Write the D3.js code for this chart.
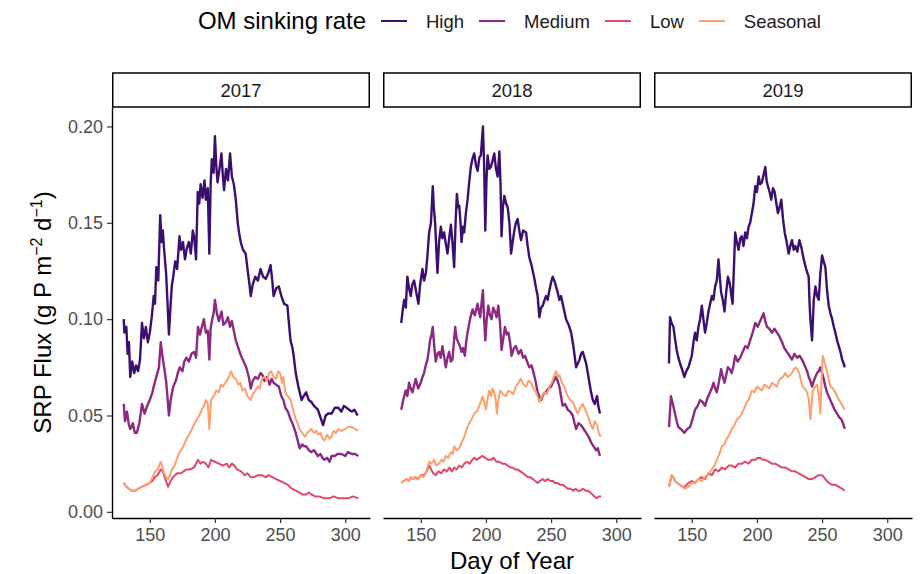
<!DOCTYPE html>
<html>
<head>
<meta charset="utf-8">
<script src="https://cdn.jsdelivr.net/npm/d3@7/dist/d3.min.js"></script>
<style>
  body { margin: 0; background: #fff; }
  text { font-family: "Liberation Sans", Arial, sans-serif; }
</style>
</head>
<body>
<div class="chart"></div>
<script>
const svgWidth = 922;
const svgHeight = 574;

// categories
const years = ["2017", "2018", "2019"];
const rates = ["High", "Medium", "Low", "Seasonal"];
const xTicks = [150, 200, 250, 300];
const yTicks = [0, 0.05, 0.10, 0.15, 0.20];

// [day of year, SRP flux]
const high2017 = [[130,0.100],[130.5,0.093],[132,0.096],[133,0.082],[134,0.088],[135,0.070],[136.5,0.078],[138,0.072],[139.5,0.076],[141,0.073],[142.5,0.079],[144,0.098],[145.5,0.090],[147,0.096],[148.5,0.088],[150,0.093],[151.5,0.101],[153,0.112],[154,0.108],[155,0.127],[156.5,0.120],[158,0.154],[159,0.140],[160,0.146],[161,0.136],[162.5,0.124],[163.5,0.110],[164.7,0.092],[166,0.108],[167,0.118],[168,0.122],[169.5,0.130],[171,0.126],[172.8,0.143],[174,0.136],[175.5,0.140],[177,0.131],[178.5,0.137],[180,0.140],[181.5,0.134],[183,0.146],[184,0.143],[185.5,0.131],[186.8,0.166],[188,0.160],[189,0.170],[190.5,0.163],[192,0.172],[193,0.162],[194.5,0.168],[195.7,0.134],[196.7,0.170],[197.6,0.183],[199,0.176],[200,0.195],[201,0.180],[202,0.171],[203.5,0.178],[205,0.186],[206,0.175],[207,0.167],[208.5,0.178],[210,0.172],[211.6,0.186],[213,0.174],[214.5,0.170],[216,0.162],[217.5,0.150],[218.5,0.145],[219.8,0.140],[221.5,0.136],[223.6,0.134],[225,0.126],[226.5,0.118],[227.5,0.112],[229,0.118],[231,0.122],[233,0.120],[235,0.126],[237,0.122],[239,0.121],[241,0.124],[242.7,0.128],[244,0.120],[245,0.112],[247,0.116],[249,0.117],[251,0.112],[253,0.108],[255.6,0.107],[256.5,0.100],[258,0.089],[259.5,0.085],[260.4,0.081],[262,0.072],[264,0.065],[266.5,0.058],[268,0.060],[270,0.062],[272,0.058],[274,0.057],[276,0.055],[279,0.053],[281,0.049],[283,0.045],[285,0.050],[287,0.051],[289.5,0.051],[292,0.054],[294.7,0.054],[297,0.052],[299,0.055],[301,0.054],[303,0.053],[305,0.052],[307,0.053],[309.5,0.050]];
const medium2017 = [[130,0.056],[131,0.047],[132.5,0.052],[134,0.045],[135,0.043],[137,0.046],[138.5,0.041],[140,0.041],[142,0.046],[144,0.056],[146,0.051],[148,0.055],[150,0.058],[152,0.062],[153,0.065],[155,0.070],[157,0.075],[158.4,0.088],[159.5,0.082],[161,0.075],[162.5,0.068],[164,0.056],[164.7,0.050],[166,0.058],[168,0.065],[170,0.068],[171.5,0.072],[173,0.075],[175,0.073],[176.5,0.078],[178,0.080],[180,0.078],[182,0.082],[184,0.083],[185.5,0.080],[187,0.096],[188.5,0.092],[190,0.096],[191.5,0.100],[193,0.093],[194.5,0.094],[195.7,0.079],[196.7,0.095],[197.6,0.099],[199,0.103],[200,0.110],[201.5,0.103],[203,0.099],[205,0.104],[206.5,0.097],[208,0.098],[210,0.101],[211.5,0.096],[213,0.099],[214.5,0.094],[216,0.089],[218,0.085],[220,0.081],[222,0.078],[224,0.075],[226,0.070],[227.5,0.064],[229,0.068],[231,0.070],[233,0.069],[235,0.072],[236.5,0.071],[238,0.068],[240,0.070],[242,0.066],[243.5,0.069],[245,0.067],[247,0.066],[249,0.065],[251,0.060],[252.5,0.058],[254,0.054],[256,0.052],[258,0.048],[260,0.045],[262,0.041],[263.5,0.037],[265,0.033],[267,0.035],[268.5,0.034],[270,0.034],[272,0.032],[274,0.031],[276,0.032],[278,0.030],[279,0.029],[281,0.030],[282.5,0.028],[284,0.027],[286,0.028],[288,0.026],[289.5,0.029],[292,0.029],[294,0.030],[297,0.030],[300,0.029],[302,0.031],[305,0.030],[307.5,0.030],[310,0.029]];
const low2017 = [[130,0.015],[132,0.013],[134,0.012],[136,0.011],[139,0.011],[141,0.012],[144,0.013],[147,0.014],[150,0.015],[152,0.016],[154,0.018],[156,0.019],[158.4,0.022],[160,0.021],[162,0.017],[164,0.013],[166,0.016],[168,0.018],[171,0.020],[174,0.020],[176,0.021],[178,0.022],[181,0.022],[184,0.023],[187,0.027],[189,0.025],[191,0.026],[193,0.025],[195,0.023],[197,0.027],[200,0.026],[203,0.025],[206,0.024],[209,0.025],[211,0.023],[213,0.025],[215,0.024],[217,0.022],[220,0.021],[223,0.019],[225,0.020],[227.5,0.018],[230,0.018],[233,0.019],[236,0.019],[239,0.018],[241,0.019],[244,0.018],[247,0.017],[250,0.016],[253,0.015],[256,0.014],[259,0.012],[262,0.011],[265,0.010],[267,0.009],[270,0.009],[272,0.010],[274,0.009],[277,0.008],[280,0.008],[284,0.007],[288,0.007],[291,0.008],[295,0.007],[299,0.007],[302,0.007],[306,0.008],[310,0.007]];
const seasonal2017 = [[130,0.015],[132,0.013],[134,0.012],[136,0.011],[139,0.011],[141,0.012],[144,0.013],[146,0.014],[148,0.014],[150,0.015],[152,0.018],[154,0.021],[156,0.022],[158.4,0.026],[159.5,0.024],[161,0.020],[162.5,0.018],[164,0.017],[165.5,0.019],[167,0.022],[169,0.024],[171,0.028],[173,0.031],[175,0.033],[177,0.036],[179,0.039],[181,0.041],[183,0.044],[186,0.048],[188,0.050],[190,0.053],[191.5,0.055],[193,0.058],[194.5,0.056],[195.7,0.043],[197,0.058],[199,0.060],[201,0.063],[203,0.062],[204.5,0.066],[206,0.065],[208,0.067],[210,0.069],[212.5,0.073],[214,0.070],[216,0.069],[218,0.066],[219.5,0.067],[221,0.063],[223,0.064],[225,0.060],[227.5,0.058],[229,0.061],[231,0.063],[233,0.065],[234.5,0.064],[236,0.069],[238,0.070],[240,0.068],[241.5,0.072],[243,0.073],[245,0.070],[247,0.069],[248.5,0.073],[250,0.072],[251.5,0.067],[252.5,0.070],[254,0.062],[256,0.060],[258,0.058],[260,0.053],[262,0.048],[263.5,0.046],[265,0.043],[267,0.041],[269,0.039],[271,0.041],[272.5,0.042],[274,0.043],[276,0.041],[278,0.042],[279,0.040],[281,0.041],[282.5,0.038],[284,0.037],[286,0.040],[288,0.038],[289.5,0.039],[291,0.042],[293,0.041],[294.7,0.043],[297,0.042],[300,0.043],[302,0.044],[305,0.044],[307.5,0.043],[310,0.042]];

const high2018 = [[135,0.098],[136,0.104],[137.2,0.110],[138.5,0.106],[139.7,0.122],[141,0.116],[142.3,0.112],[143.5,0.118],[144.9,0.120],[146.5,0.114],[148.2,0.108],[149.5,0.118],[151.3,0.126],[152.5,0.120],[153.9,0.124],[155,0.132],[156.4,0.145],[157.8,0.150],[159.2,0.169],[160,0.158],[161,0.150],[162,0.135],[162.8,0.124],[164,0.140],[165.4,0.148],[166.5,0.142],[167.9,0.145],[169,0.140],[170.5,0.134],[171.8,0.142],[173.1,0.149],[174.3,0.140],[175.6,0.127],[176.7,0.150],[177.7,0.165],[178.6,0.158],[179.5,0.159],[180.5,0.150],[181.3,0.140],[182.3,0.148],[183.3,0.145],[184.6,0.155],[185.9,0.162],[187,0.170],[188.4,0.179],[189.6,0.183],[191,0.186],[192.3,0.180],[193.6,0.177],[195,0.184],[196.1,0.185],[197.7,0.200],[198.6,0.180],[199.5,0.146],[200.4,0.172],[201.3,0.185],[202.5,0.178],[203.8,0.179],[205,0.182],[206.4,0.186],[207.7,0.178],[209,0.174],[210.3,0.187],[211.2,0.170],[212,0.143],[213,0.158],[214.1,0.164],[215.5,0.160],[216.7,0.158],[218,0.150],[219.3,0.134],[220.5,0.140],[221.8,0.146],[223,0.150],[224.3,0.152],[225.6,0.146],[226.9,0.141],[228.5,0.146],[230.8,0.145],[232,0.138],[233.3,0.132],[235,0.128],[237.2,0.121],[238.5,0.116],[239.7,0.112],[241,0.101],[242.3,0.106],[243.6,0.107],[245,0.110],[246.1,0.112],[247.4,0.110],[248.7,0.115],[250,0.119],[251.2,0.122],[252.5,0.120],[253.8,0.117],[255,0.114],[256.4,0.110],[257.6,0.112],[258.9,0.108],[260.2,0.104],[261.5,0.100],[263.5,0.097],[265.4,0.093],[267.3,0.085],[269.2,0.075],[270.5,0.077],[271.8,0.079],[273,0.082],[274.3,0.083],[275.6,0.080],[276.9,0.077],[278.2,0.072],[279.4,0.067],[280.7,0.062],[282,0.058],[283.5,0.056],[285.3,0.060],[286.2,0.055],[287.5,0.051]];
const medium2018 = [[135,0.053],[136.5,0.058],[138.4,0.063],[139.7,0.060],[141,0.067],[142.3,0.064],[143.6,0.062],[145,0.066],[146.1,0.069],[148,0.064],[150,0.067],[151.3,0.070],[152.5,0.072],[153.8,0.076],[155.1,0.079],[156.2,0.084],[157.1,0.089],[158.2,0.092],[159.2,0.096],[160.3,0.086],[161.5,0.078],[162.8,0.082],[164,0.083],[165.3,0.080],[166.6,0.086],[168,0.080],[169.2,0.075],[170.5,0.080],[171.8,0.083],[173,0.078],[174.3,0.079],[175.4,0.088],[176.4,0.096],[177.5,0.090],[178.7,0.088],[180,0.086],[181.3,0.083],[182.5,0.085],[183.8,0.081],[184.8,0.088],[185.9,0.093],[187.8,0.100],[189.7,0.105],[191.5,0.102],[193.6,0.108],[194.6,0.104],[195.6,0.101],[196.6,0.108],[197.7,0.115],[198.6,0.100],[199.5,0.089],[200.6,0.100],[201.8,0.107],[203,0.102],[204.3,0.100],[205.6,0.106],[206.9,0.104],[208.2,0.101],[209.5,0.107],[210.8,0.098],[212,0.084],[213.3,0.090],[214.6,0.096],[215.9,0.092],[217.2,0.093],[218.5,0.088],[219.7,0.081],[221.5,0.085],[223,0.086],[225,0.082],[226.9,0.084],[228.5,0.080],[230,0.081],[231.6,0.078],[233.3,0.075],[235,0.076],[236.6,0.072],[238,0.068],[239.7,0.062],[241,0.060],[242.3,0.058],[244,0.061],[246.1,0.062],[248,0.064],[250,0.065],[252,0.068],[253.8,0.070],[255,0.068],[256.4,0.065],[257.6,0.060],[258.9,0.055],[260.8,0.056],[262.8,0.053],[264.7,0.052],[266.6,0.050],[268,0.046],[269.2,0.043],[271,0.046],[273,0.045],[275,0.043],[276.9,0.041],[278.8,0.039],[280.7,0.036],[282.6,0.034],[284.5,0.032],[285.8,0.033],[287.5,0.029]];
const low2018 = [[135,0.015],[137,0.016],[139,0.017],[141,0.016],[142.3,0.018],[144,0.017],[146,0.018],[148,0.017],[150,0.019],[152.5,0.019],[154.5,0.021],[156.4,0.024],[158,0.022],[159.5,0.020],[161.5,0.019],[163.5,0.021],[165.5,0.020],[167.9,0.022],[170,0.021],[172,0.023],[173.8,0.021],[175.6,0.023],[177.5,0.022],[179.5,0.024],[181.5,0.023],[183.3,0.025],[185.5,0.026],[187.5,0.025],[189.5,0.027],[191,0.028],[193,0.027],[195,0.028],[197.4,0.029],[199.5,0.028],[201.5,0.027],[203.8,0.027],[206,0.028],[208,0.026],[210.3,0.026],[212.5,0.025],[214.5,0.025],[216.7,0.024],[218.5,0.023],[220.5,0.023],[222.5,0.022],[224.3,0.022],[226.5,0.021],[228.5,0.020],[230.5,0.019],[232,0.018],[234,0.018],[236,0.017],[237.8,0.016],[239.7,0.015],[241.5,0.016],[243.5,0.017],[245.5,0.016],[247.4,0.017],[249.5,0.016],[251.5,0.016],[253,0.015],[255,0.015],[257,0.014],[259,0.014],[261,0.013],[262.8,0.012],[265,0.012],[267,0.011],[268.8,0.012],[270.5,0.011],[272.5,0.011],[274.5,0.012],[276.5,0.011],[278.2,0.011],[280,0.010],[281.7,0.009],[283.3,0.008],[285,0.007],[286.7,0.008],[288.4,0.008]];
const seasonal2018 = [[135,0.015],[137,0.016],[139,0.017],[141,0.016],[142.3,0.018],[144,0.017],[146,0.018],[148,0.017],[150,0.019],[152,0.018],[153.8,0.020],[155,0.023],[156.4,0.026],[158,0.025],[160.2,0.027],[162,0.024],[164,0.025],[166,0.027],[167.5,0.026],[169.2,0.029],[171,0.028],[173.1,0.031],[174.5,0.030],[175.6,0.034],[177.5,0.032],[179.5,0.033],[181.5,0.036],[183.3,0.039],[185.3,0.043],[187.2,0.046],[189,0.048],[191,0.051],[193,0.052],[194.8,0.055],[196,0.057],[197.4,0.060],[198.7,0.057],[200,0.053],[201.3,0.059],[202.5,0.063],[204,0.060],[205,0.064],[206.4,0.062],[207.5,0.058],[208.4,0.051],[209.7,0.059],[211,0.063],[213,0.061],[215.4,0.060],[217.3,0.063],[219.3,0.062],[221,0.061],[223,0.065],[225,0.067],[226.9,0.069],[228.8,0.066],[230.8,0.065],[232.7,0.068],[234.6,0.067],[236.5,0.064],[238.5,0.062],[240,0.059],[241,0.057],[243,0.060],[244.9,0.062],[246.8,0.061],[248.7,0.065],[250.5,0.067],[252,0.070],[253.8,0.073],[255,0.070],[256.4,0.071],[258.3,0.067],[260.2,0.065],[261.5,0.062],[262.8,0.060],[264.7,0.058],[266.6,0.057],[268.5,0.054],[270.5,0.051],[272.4,0.054],[274.3,0.056],[276.2,0.053],[278.2,0.050],[280,0.046],[282,0.043],[283.6,0.047],[285.3,0.045],[286.6,0.041],[288,0.039]];

const high2019 = [[132.5,0.077],[133.3,0.101],[134.5,0.098],[135.9,0.096],[137.1,0.090],[138.4,0.084],[139.7,0.080],[141,0.077],[142.5,0.074],[144.3,0.070],[145.8,0.073],[147.4,0.075],[148.7,0.078],[150,0.081],[151.3,0.088],[152.5,0.093],[153.8,0.089],[155.1,0.096],[156.4,0.100],[157.7,0.107],[158.9,0.100],[160.2,0.093],[161.5,0.098],[162.8,0.104],[164.1,0.108],[165.4,0.112],[166.6,0.110],[167.9,0.117],[169.2,0.120],[170.5,0.131],[171.5,0.122],[172.5,0.114],[173.8,0.110],[175.1,0.104],[176.4,0.114],[177.7,0.122],[178.6,0.120],[179.5,0.117],[180.4,0.112],[181.3,0.108],[182.3,0.126],[183.3,0.145],[184.6,0.140],[185.9,0.136],[187.2,0.142],[188.4,0.143],[189.7,0.138],[191,0.145],[192.3,0.142],[193.6,0.148],[194.8,0.150],[196.1,0.155],[197.4,0.160],[198.7,0.169],[200,0.166],[201.3,0.174],[202.5,0.170],[203.8,0.171],[205.1,0.175],[206.4,0.179],[207.4,0.172],[208.4,0.169],[209.7,0.166],[211,0.162],[212.3,0.168],[213.6,0.166],[214.9,0.160],[216.1,0.155],[217.4,0.158],[218.7,0.162],[220,0.152],[221.3,0.145],[222.8,0.140],[224.3,0.134],[225.6,0.138],[226.9,0.141],[228.2,0.136],[229.4,0.138],[231,0.135],[232.5,0.141],[234.2,0.137],[235.9,0.131],[237.8,0.126],[239.7,0.122],[240.4,0.108],[241,0.100],[242.3,0.089],[243.6,0.110],[244.9,0.117],[246.2,0.112],[247.4,0.110],[248.7,0.124],[250,0.133],[251.2,0.130],[252.5,0.127],[253.8,0.115],[255.1,0.107],[256.4,0.103],[257.7,0.100],[259,0.096],[260.2,0.093],[261.5,0.089],[262.8,0.086],[264.1,0.083],[265.4,0.079],[266.5,0.077],[267.4,0.075]];
const medium2019 = [[132.5,0.044],[134,0.060],[135.5,0.056],[137.1,0.051],[138.4,0.047],[139.7,0.044],[141.5,0.043],[143,0.042],[144.3,0.041],[146.5,0.043],[148.7,0.044],[150.5,0.048],[152.5,0.053],[154.5,0.055],[156.4,0.058],[158.3,0.057],[160.2,0.055],[162,0.059],[164,0.062],[165.3,0.064],[166.6,0.067],[168,0.064],[169.2,0.062],[171,0.068],[172.5,0.074],[173.8,0.070],[175.1,0.067],[176.4,0.071],[177.7,0.075],[179.2,0.074],[180.7,0.072],[182,0.076],[183.3,0.081],[185.2,0.078],[187.2,0.080],[189,0.083],[191,0.086],[192.9,0.085],[194.8,0.089],[196.7,0.093],[198.7,0.098],[200.6,0.096],[202.5,0.099],[203.8,0.101],[205.1,0.103],[206.4,0.099],[207.7,0.096],[209.6,0.095],[211.5,0.093],[213.5,0.095],[215.4,0.093],[217.3,0.091],[219.3,0.088],[221,0.085],[223,0.083],[225,0.081],[226.9,0.079],[228.8,0.082],[230.8,0.080],[232.7,0.081],[234.6,0.079],[236,0.077],[237.2,0.075],[238.5,0.073],[239.7,0.070],[241,0.068],[242.3,0.065],[244.2,0.069],[246.1,0.072],[247.4,0.073],[248.7,0.075],[250,0.072],[251.2,0.069],[252.5,0.065],[253.8,0.062],[255.7,0.059],[257.7,0.056],[259.6,0.053],[261.5,0.051],[263.2,0.049],[264.8,0.048],[266,0.046],[267.4,0.043]];
const low2019 = [[132.5,0.013],[134.6,0.019],[135.8,0.018],[137.1,0.016],[139,0.015],[141,0.014],[142.9,0.013],[144.8,0.013],[147.4,0.015],[150,0.016],[152.5,0.015],[155.1,0.017],[157.7,0.018],[160.2,0.017],[162.8,0.020],[165.4,0.019],[167.9,0.022],[170.5,0.021],[173.1,0.023],[175.6,0.022],[178.2,0.024],[180.7,0.024],[183.3,0.023],[185.8,0.025],[188.4,0.025],[191,0.026],[193.5,0.025],[196.1,0.027],[198.7,0.027],[200.6,0.028],[202.5,0.028],[204.5,0.027],[206.4,0.027],[209,0.026],[211.5,0.025],[214.1,0.025],[216.7,0.024],[219.3,0.023],[221.8,0.023],[224.3,0.022],[226.9,0.021],[229.4,0.021],[232,0.020],[234.6,0.019],[237.1,0.018],[239.7,0.017],[242.3,0.017],[244.9,0.018],[247.4,0.019],[250,0.019],[252.5,0.017],[255.1,0.015],[257.7,0.014],[260.2,0.014],[262.8,0.013],[265.4,0.012],[267.4,0.011]];
const seasonal2019 = [[132.5,0.013],[134.6,0.019],[135.8,0.018],[137.1,0.016],[139,0.015],[141,0.014],[142.9,0.013],[144.8,0.012],[147.4,0.013],[150,0.015],[152.5,0.015],[155.1,0.017],[157.7,0.016],[160.2,0.018],[162.8,0.020],[165.4,0.022],[167.3,0.024],[169.2,0.027],[171.2,0.030],[173.1,0.034],[175,0.035],[176.9,0.038],[178.8,0.040],[180.7,0.043],[182.7,0.045],[184.6,0.048],[186.5,0.049],[188.4,0.051],[190.3,0.054],[192.3,0.057],[194.2,0.059],[196.1,0.063],[198,0.062],[200,0.065],[201.9,0.064],[203.8,0.063],[205.7,0.066],[207.7,0.065],[209.6,0.064],[211.5,0.067],[213.5,0.066],[215.4,0.065],[216.7,0.068],[218,0.069],[219.9,0.070],[221.8,0.072],[223.7,0.070],[225.6,0.071],[227.5,0.073],[229.4,0.075],[231,0.074],[232.5,0.072],[233.8,0.068],[235.1,0.065],[236.8,0.064],[238.5,0.062],[239.8,0.058],[241,0.048],[242,0.056],[242.8,0.063],[243.9,0.064],[244.9,0.065],[246.2,0.066],[247.5,0.060],[248.7,0.051],[249.6,0.068],[250.5,0.081],[251.8,0.078],[253,0.075],[254.7,0.070],[256.4,0.065],[258.3,0.064],[260.2,0.062],[262.1,0.059],[264,0.057],[265.7,0.055],[267.4,0.053]];

const seriesByYear = {
    "2017": [high2017, medium2017, low2017, seasonal2017],
    "2018": [high2018, medium2018, low2018, seasonal2018],
    "2019": [high2019, medium2019, low2019, seasonal2019]
};

// layout
const panelTop = 107;
const panelBottom = 518;
const panelW = 258;
const panelLefts = [112, 383, 654];
const stripTop = 73;
const tickFont = 18;
const titleFont = 24;

const color = d3.scaleOrdinal()
    .domain(rates)
    .range([0.2, 0.4, 0.6, 0.8].map(d3.interpolateMagma));

const svg = d3.select(".chart")
    .append("svg")
    .attr("width", svgWidth)
    .attr("height", svgHeight)
    .style("background", "#fff");

const y = d3.scaleLinear()
    .domain([-0.0032, 0.2101])
    .range([panelBottom, panelTop]);

const line = d3.line();

function styleAxis(ax) {
    ax.select(".domain").attr("stroke", "#000").attr("stroke-width", 1.4);
    ax.selectAll(".tick line").attr("stroke", "#333").attr("stroke-width", 1.2);
    ax.selectAll(".tick text")
        .attr("font-size", tickFont).attr("fill", "#4d4d4d")
        .attr("font-family", "Liberation Sans, Arial, sans-serif");
}

years.forEach((yr, i) => {
    const left = panelLefts[i];
    const x = d3.scaleLinear().domain([121, 319]).range([left, left + panelW]);
    const g = svg.append("g").attr("class", "panel");

    // strip
    g.append("rect")
        .attr("x", left + 0.75).attr("y", stripTop)
        .attr("width", panelW - 1.5).attr("height", panelTop - stripTop)
        .attr("fill", "#fff").attr("stroke", "#000").attr("stroke-width", 1.5);
    g.append("text")
        .attr("x", left + panelW / 2).attr("y", 97)
        .attr("text-anchor", "middle")
        .attr("font-size", 18.5).attr("fill", "#1a1a1a")
        .text(yr);

    // lines: High, Medium, Low, Seasonal
    line.x(d => x(d[0])).y(d => y(d[1]));
    g.selectAll("path.series")
        .data(seriesByYear[yr])
        .join("path")
        .attr("class", "series")
        .attr("d", line)
        .attr("fill", "none")
        .attr("stroke", (d, j) => color(rates[j]))
        .attr("stroke-width", (d, j) => j < 2 ? 2.4 : 2.0)
        .attr("stroke-linejoin", "round");

    // x axis
    const xAxis = g.append("g")
        .attr("transform", `translate(0,${panelBottom})`)
        .call(d3.axisBottom(x).tickValues(xTicks).tickSize(5).tickSizeOuter(0).tickPadding(5));
    styleAxis(xAxis);

    if (i === 0) {
        const yAxis = g.append("g")
            .attr("transform", `translate(${left},0)`)
            .call(d3.axisLeft(y).tickValues(yTicks).tickSize(5).tickSizeOuter(0).tickPadding(4)
                .tickFormat(d3.format(".2f")));
        styleAxis(yAxis);
    }
});

// axis titles
svg.append("text")
    .attr("x", (panelLefts[0] + panelLefts[2] + panelW) / 2).attr("y", 569)
    .attr("text-anchor", "middle")
    .attr("font-size", titleFont).attr("fill", "#000")
    .text("Day of Year");

const yTitle = svg.append("text")
    .attr("transform", `translate(51,${(panelTop + panelBottom) / 2}) rotate(-90)`)
    .attr("text-anchor", "middle")
    .attr("font-size", titleFont).attr("fill", "#000");
yTitle.append("tspan").text("SRP Flux (g P m");
yTitle.append("tspan").attr("dy", -9).attr("font-size", 16).text("\u22122");
yTitle.append("tspan").attr("dy", 9).text(" d");
yTitle.append("tspan").attr("dy", -9).attr("font-size", 16).text("\u22121");
yTitle.append("tspan").attr("dy", 9).text(")");

// legend
const legend = svg.append("g").attr("class", "legend");
legend.append("text")
    .attr("x", 366).attr("y", 29)
    .attr("text-anchor", "end")
    .attr("font-size", titleFont).attr("fill", "#000")
    .text("OM sinking rate");

let lx = 381;
rates.forEach(r => {
    legend.append("line")
        .attr("x1", lx).attr("x2", lx + 26)
        .attr("y1", 21).attr("y2", 21)
        .attr("stroke", color(r)).attr("stroke-width", 2);
    const t = legend.append("text")
        .attr("x", lx + 45).attr("y", 28)
        .attr("font-size", 18.5).attr("fill", "#1a1a1a")
        .text(r);
    lx += 45 + t.node().getComputedTextLength() + 15;
});
</script>
</body>
</html>
